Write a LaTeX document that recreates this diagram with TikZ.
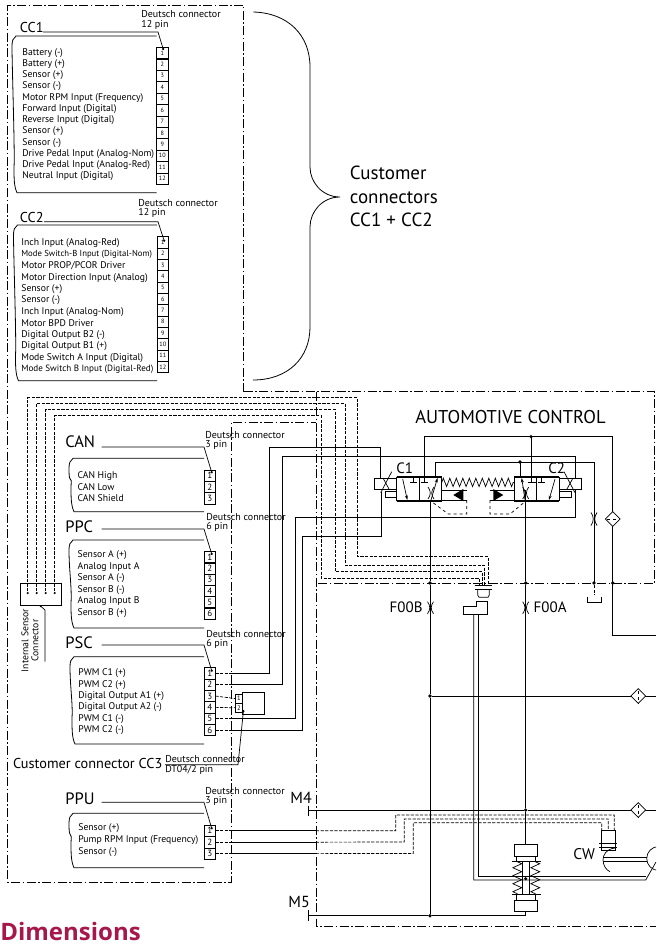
\documentclass[tikz,border=0pt]{standalone}
\usepackage{fontspec}
\setmainfont{PT Sans}
\newfontfamily\dimfont{Open Sans}
\usetikzlibrary{arrows,arrows.meta,decorations.pathmorphing,shapes.geometric}

\definecolor{crimson}{HTML}{A6174A}
\newcommand{\cblock}[5]{
  \draw[blockline] (#4,#3) -- (#2+4,#3) .. controls (#2+1,#3+2) and (#2,#3+5) .. (#2,#3+10)
    .. controls (#2,#3+30) and (#2+3,{#5-40}) .. (#2+2,{#5-25})
    .. controls (#2+2,{#5-15}) and (#2+2,{#5-6}) .. (#2+5,#5) -- (#4,#5);
  \coordinate (#1) at (#4,#3);
}
\newcommand{\pinrow}[6]{
  \foreach \i in {1,...,#4}
    \node[#6] (#1\i) at (#2,{#3+(\i-0.5)*#5}) {\i};
}
\newcommand{\textrow}[5]{
  \foreach \t [count=\i] in {#5}
    \node[rowtext] (#1\i) at (#2,{#3+(\i-1)*#4}) {\t};
}
\newcommand{\restrictor}[3]{
  \draw (#1-3,#2-#3) .. controls (#1,#2-2) and (#1,#2+2) .. (#1-3,#2+#3);
  \draw (#1+3,#2-#3) .. controls (#1,#2-2) and (#1,#2+2) .. (#1+3,#2+#3);
}
\newcommand{\tightA}{\fontsize{8.7}{10}\selectfont}
\newcommand{\tightB}{\fontsize{9.1}{10}\selectfont}

\begin{document}
\begin{tikzpicture}[x=1pt,y=-1pt,line width=0.7pt,>=stealth']
  \tikzstyle{rowtext}=[anchor=west,inner sep=0pt,font=\fontsize{9.7}{10}\selectfont]
  \tikzstyle{smalltext}=[anchor=west,inner sep=0pt,font=\fontsize{10}{10}\selectfont]
  \tikzstyle{biglabel}=[anchor=west,inner sep=0pt,font=\fontsize{16.5}{18}\selectfont]
  \tikzstyle{midlabel}=[anchor=west,inner sep=0pt,font=\fontsize{14.3}{15}\selectfont]
  \tikzstyle{pinsmall}=[draw,line width=0.5pt,minimum width=11.3pt,minimum height=11.33pt,inner sep=0pt,outer sep=0pt,anchor=center,font=\fontsize{6.2}{6}\selectfont]
  \tikzstyle{pinbig}=[pinsmall,font=\fontsize{9}{9}\selectfont]
  \tikzstyle{pinheavy}=[pinbig,line width=0.9pt]
  \tikzstyle{blockline}=[line width=0.8pt]
  \tikzstyle{leader}=[line width=0.7pt,-{Circle[length=2.2pt]}]
  \tikzstyle{frame}=[line width=0.65pt,dash pattern=on 9pt off 2.5pt on 1.5pt off 2.5pt]
  \tikzstyle{sensor}=[line width=0.7pt,dash pattern=on 3.2pt off 1.4pt]
  \tikzstyle{dot}=[circle,fill=black,inner sep=0pt,minimum size=3.6pt]
  \tikzstyle{filter}=[diamond,draw,fill=white,inner sep=0pt,minimum size=15pt]
  \tikzstyle{vbox}=[draw,minimum size=22.5pt,inner sep=0pt,outer sep=0pt]

  \useasboundingbox (0,0) rectangle (656,944);
  \clip (0,0) rectangle (656,944);

  \coordinate (frameA) at (231,0);
  \coordinate (frameB) at (316,0);

  \draw[frame] (243.5,392) -- (243.5,5) -- (7.5,5) -- (7.5,882) -- (231,882) -- (231,422) -- (316,422);
  \draw[frame] (243.5,391.5) -- (654.5,391.5) -- (654.5,583) -- (316,583);
  \draw[frame] (316,391.5) -- (316,926) -- (656,926);

  \draw[blockline] (253.3,12) .. controls (288,13) and (310,35) .. (310,67) -- (310,167)
    .. controls (310,182) and (322,197) .. (340,197)
    .. controls (322,197) and (310,212) .. (310,227) -- (310,327)
    .. controls (310,358) and (288,380) .. (253,380);

  \node[midlabel,align=left,font=\fontsize{19}{23.5}\selectfont] (custconn) at (349.5,196.5) {Customer\\connectors\\CC1 + CC2};

  \node[midlabel] (CC1) at (19.5,27.5) {CC1};
  \node[smalltext] (CC1dc) at (141,14) {Deutsch connector};
  \node[smalltext] (CC1pin) at (141,25) {12 pin};
  \cblock{CC1b}{12}{36}{156.5}{192.7}
  \pinrow{CC1p}{162.3}{47.3}{12}{11.42}{pinsmall}
  \textrow{CC1t}{22}{52.7}{11.25}{Battery (-),Battery (+),Sensor (+),Sensor (-),Motor RPM Input (Frequency),Forward Input (Digital),Reverse Input (Digital),Sensor (+),Sensor (-),Drive Pedal Input (Analog-Nom),Drive Pedal Input (Analog-Red),Neutral Input (Digital)}
  \coordinate (CC1l) at (43,32);
  \draw[leader] (CC1l) -- (158,32) -- (163.5,50);

  \node[midlabel] (CC2) at (19.5,217.5) {CC2};
  \node[smalltext] (CC2dc) at (138,202.7) {Deutsch connector};
  \node[smalltext] (CC2pin) at (138,212.7) {12 pin};
  \cblock{CC2b}{13.5}{225}{157}{380.7}
  \pinrow{CC2p}{162.8}{236.7}{12}{11.33}{pinsmall}
  \textrow{CC2t}{21}{243.3}{11.44}{Inch Input (Analog-Red),\tightA Mode Switch-B Input (Digital-Nom),Motor PROP/PCOR Driver,Motor Direction Input (Analog),Sensor (+),Sensor (-),Inch Input (Analog-Nom),Motor BPD Driver,Digital Output B2 (-),Digital Output B1 (+),Mode Switch A Input (Digital),\tightB Mode Switch B Input (Digital-Red)}
  \coordinate (CC2l) at (44,221.7);
  \draw[leader] (CC2l) -- (158,221.7) -- (164.5,241.7);

  \node[biglabel] (CAN) at (65,442) {CAN};
  \node[smalltext] (CANdc) at (205,434.8) {Deutsch connector};
  \node[smalltext] (CANpin) at (205,445) {3 pin};
  \cblock{CANb}{69}{458.3}{204}{511.7}
  \pinrow{CANp}{209.8}{470}{3}{11.33}{pinbig}
  \textrow{CANt}{77.3}{476}{11}{CAN High,CAN Low,CAN Shield}
  \coordinate (CANl) at (101.7,447);
  \draw[leader] (CANl) -- (204,447) -- (212,473.3);

  \node[biglabel] (PPC) at (65,526.5) {PPC};
  \node[smalltext] (PPCdc) at (206,516.7) {Deutsch connector};
  \node[smalltext] (PPCpin) at (206,526.7) {6 pin};
  \cblock{PPCb}{69}{540}{204}{628}
  \pinrow{PPCp}{209.8}{551.7}{6}{11.25}{pinheavy}
  \textrow{PPCt}{77.3}{555}{11.6}{Sensor A (+),Analog Input A,Sensor A (-),Sensor B (-),Analog Input B,Sensor B (+)}
  \coordinate (PPCl) at (101.7,529);
  \draw[leader] (PPCl) -- (204,529) -- (212,555);

  \node[biglabel] (PSC) at (65,642.5) {PSC};
  \node[smalltext] (PSCdc) at (206,634.3) {Deutsch connector};
  \node[smalltext] (PSCpin) at (206,644.3) {6 pin};
  \cblock{PSCb}{70}{656.7}{204}{744}
  \pinrow{PSCp}{209.8}{667.7}{6}{11.33}{pinheavy}
  \textrow{PSCt}{78}{673.3}{11.4}{PWM C1 (+),PWM C2 (+),Digital Output A1 (+),Digital Output A2 (-),PWM C1 (-),PWM C2 (-)}
  \coordinate (PSCl) at (101.7,645);
  \draw[leader] (PSCl) -- (204,645) -- (212,671.7);

  \node[midlabel] (CC3) at (12.7,763.3) {Customer connector CC3};
  \node[smalltext] (CC3dc) at (165,759.3) {Deutsch connector};
  \node[smalltext] (CC3pin) at (165,770) {DT04/2 pin};
  \coordinate (CC3l) at (165,764.7);
  \draw[leader] (CC3l) -- (238,764.7) -- (243.5,710);
  \node[draw,minimum width=6.6pt,minimum height=9.2pt,inner sep=0pt,outer sep=0pt,font=\fontsize{6.5}{6}\selectfont] (DTp1) at (239,698.6) {1};
  \node[draw,minimum width=6.6pt,minimum height=9.2pt,inner sep=0pt,outer sep=0pt,font=\fontsize{6.5}{6}\selectfont] (DTp2) at (239,707.8) {2};
  \node[draw,minimum width=22pt,minimum height=21.3pt,inner sep=0pt,outer sep=0pt] (DTbox) at (253.3,703.3) {};
  \draw[sensor] (PSCp3.east) -- (DTp1.west);
  \draw[sensor] (PSCp4.east) -- (DTp2.west);

  \node[biglabel] (PPU) at (65,799) {PPU};
  \node[smalltext] (PPUdc) at (205,790.7) {Deutsch connector};
  \node[smalltext] (PPUpin) at (205,800.7) {3 pin};
  \cblock{PPUb}{69}{813.3}{204}{867.7}
  \pinrow{PPUp}{209.8}{825}{3}{11.44}{pinbig}
  \textrow{PPUt}{78}{828.3}{11.7}{Sensor (+),Pump RPM Input (Frequency),Sensor (-)}
  \coordinate (PPUl) at (101.7,802.3);
  \draw[leader] (PPUl) -- (204,802.3) -- (212,829.3);

  \node[draw,line width=0.8pt,minimum width=40.6pt,minimum height=22.6pt,inner sep=0pt,outer sep=0pt] (ISC) at (41,594.3) {};
  \node[rotate=90,align=center,inner sep=0pt,font=\fontsize{9.7}{10}\selectfont] (ISCt) at (30,640.5) {Internal Sensor\\Connector};
  \coordinate (ISCl) at (45,661.7);
  \draw[line width=0.7pt,{Circle[length=2pt]}-] (40,605.5) -- (45,610) -- (ISCl);

  \foreach \n/\x in {a/27.7,b/36.7,c/45.7,d/54.7}
    \node[dot,minimum size=2.4pt] (ISC\n) at (\x,593) {};
  \coordinate (CONa) at (488,585);
  \coordinate (CONb) at (484.5,585);
  \coordinate (CONc) at (482,585);
  \coordinate (COND) at (479,585);
  \draw[sensor] (ISCa) -- (27.7,397.7) -- (357.3,397.7) -- (357.3,556.7) -- (488,556.7) -- (CONa);
  \draw[sensor] (ISCb) -- (36.7,403.3) -- (345,403.3) -- (345,565.3) -- (484.5,565.3) -- (CONb);
  \draw[sensor] (ISCc) -- (45.7,409.3) -- (335,409.3) -- (335,571.7) -- (482,571.7) -- (CONc);
  \draw[sensor] (ISCd) -- (54.7,415.7) -- (321,415.7) -- (321,578.3) -- (479,578.3) -- (COND);

  \node[midlabel,font=\fontsize{18.5}{20}\selectfont] (AUTO) at (415,417) {AUTOMOTIVE CONTROL};

  \node[draw,minimum width=22.7pt,minimum height=11pt,inner sep=0pt,outer sep=0pt] (C1act) at (385.3,483.5) {};
  \node[draw,minimum width=22.7pt,minimum height=11pt,inner sep=0pt,outer sep=0pt] (C2act) at (570.3,483.5) {};
  \node[vbox] (C1a) at (407.9,488.9) {};
  \node[vbox] (C1b) at (430.4,488.9) {};
  \node[vbox] (C2a) at (525.4,488.9) {};
  \node[vbox] (C2b) at (547.9,488.9) {};
  \node[midlabel,font=\fontsize{15}{15}\selectfont] (C1) at (396,468) {C1};
  \node[midlabel,font=\fontsize{15}{15}\selectfont] (C2) at (548,468) {C2};

  \draw (396.7,476) -- (441.7,476);
  \draw (396.7,501.7) -- (441.7,501.7);
  \draw (514,476) -- (559,476);
  \draw (514,501.7) -- (559,501.7);
  \draw (380.7,492.7) -- (391.7,471.7);
  \draw (383,478) -- (389,489);
  \draw (575,492.7) -- (564,471.7);
  \draw (573,478) -- (567,489);
  \draw (396.7,491.7) -- (385.7,491.7) -- (385.7,497.3) -- (396.7,497.3);
  \draw (559,491.7) -- (571,491.7) -- (571,497.3) -- (559,497.3);

  \draw[decorate,decoration={zigzag,segment length=6.5pt,amplitude=4.2pt}] (441.7,482.4) -- (514,482.4);
  \draw (441.7,490) -- (466.7,490);
  \draw (441.7,500) -- (466.7,500);
  \draw (514,490) -- (490,490);
  \draw (514,500) -- (490,500);
  \fill (453.3,495) -- (463.3,489) -- (463.3,501) -- cycle;
  \fill (503.3,495) -- (493.3,489) -- (493.3,501) -- cycle;
  \draw[dashed] (466.7,500) -- (466.7,514) -- (448.3,514) -- (431.7,501.7);
  \draw[dashed] (490,500) -- (490,514) -- (510,514) -- (525,501.7);

  \draw[-{Stealth[length=4.5pt,width=3pt]}] (402.7,479) -- (407.3,500);
  \draw (413.3,477) -- (413.3,482.3) (410,482.3) -- (416.7,482.3);
  \draw (420.5,482.3) -- (428,482.3);
  \draw[-{Stealth[length=4.5pt,width=3pt]}] (431,500) -- (437.5,478);
  \draw (541.7,477) -- (541.7,482.3) (538.4,482.3) -- (545,482.3);
  \draw (528,482.3) -- (535.5,482.3);
  \draw[-{Stealth[length=4.5pt,width=3pt]}] (525,500) -- (521.7,478);
  \draw[-{Stealth[length=4.5pt,width=3pt]}] (555,479) -- (549,500);
  \restrictor{431}{493}{6}
  \restrictor{525.7}{493}{6}

  \coordinate (C1T) at (424.3,482.3);
  \coordinate (C2T) at (531,482.3);
  \coordinate (C1P) at (435.7,478);
  \coordinate (C2P) at (520,478);
  \node[dot] (topdot) at (531,436.7) {};
  \node[dot] (pdot) at (520,462) {};
  \draw (C1T) |- (topdot.center) -- (C2T);
  \draw (topdot.center) -| (612.7,635) -- (656,635);
  \draw (C1P) |- (pdot.center) -- (C2P);
  \draw (pdot.center) -| (594,583);

  \foreach \i in {1,2,5,6}
    \draw[sensor] (PSCp\i.east) -- (PSCp\i.east -| frameA);
  \draw (PSCp1.east -| frameA) -| (269.3,447.3) -| (380,478);
  \draw (PSCp2.east -| frameA) -| (282.7,456) -| (575,478);
  \draw (PSCp5.east -| frameA) -| (295.7,517.3) -| (575,489);
  \draw (PSCp6.east -| frameA) -| (302.3,536.7) -| (381.7,491.7);

  \node[filter] (filt1) at (612.7,519) {};
  \draw[dashed] (607,519) -- (618,519);
  \restrictor{594}{519}{6.5}

  \node[dot] (dA) at (430,583) {};
  \node[dot] (dB) at (525.7,583) {};
  \node[dot] (dC) at (594,583) {};
  \node[dot] (dD) at (612.7,583) {};
  \node[dot] (dE) at (430,696) {};
  \node[dot] (dF) at (430,915.7) {};
  \node[dot] (dG) at (525.7,810) {};
  \node[dot,minimum size=3.4pt] (dH) at (525.7,878.7) {};

  \coordinate (M4tick) at (308.3,810);
  \coordinate (M5tick) at (308.3,915.7);
  \draw (308.3,805.5) -- (308.3,816);
  \draw (308.3,910) -- (308.3,921);
  \node[midlabel,font=\fontsize{16}{16}\selectfont] (M4) at (290,798) {M4};
  \node[midlabel,font=\fontsize{16}{16}\selectfont] (M5) at (288,901.7) {M5};

  \draw (430,500) -- (dA) -- (dE) -- (dF);
  \draw (525.7,490) -- (dB) -- (dG) -- (525.7,844.3);
  \draw (M4tick) -- (dG) -- (656,810);
  \draw (dE) -- (656,696);
  \draw (M5tick) -- (dF) -- (525.7,915.7) -- (525.7,911.7);
  \node[filter] (filt2) at (638.3,696) {};
  \node[filter] (filt3) at (638.3,810) {};
  \draw[dashed] (638.3,691) -- (638.3,704);
  \draw[dashed] (638.3,805) -- (638.3,818);

  \restrictor{430.5}{607.7}{6}
  \restrictor{525.7}{607.7}{6}
  \node[midlabel,font=\fontsize{15}{15}\selectfont] (F00B) at (389.3,607.7) {F00B};
  \node[midlabel,font=\fontsize{15}{15}\selectfont] (F00A) at (533.3,607.7) {F00A};

  \draw[sensor] (dC) -- (594,595);
  \draw (587.7,596.7) -- (587.7,602.7) -- (601,602.7) -- (601,596.7);

  \draw (475,585) -- (492.3,585) (475,589.3) -- (492.3,589.3);
  \draw (477.7,589.3) -- (477.7,595) -- (479,597.3) -- (488,597.3) -- (489.3,595) -- (489.3,589.3);
  \draw (463.3,606.7) -- (476.7,606.7) -- (476.7,601.7) -- (487.7,601.7) -- (487.7,614) -- (463.3,614) -- cycle;

  \coordinate (outerW) at (473.8,614);
  \coordinate (innerW) at (478.4,614);
  \draw (outerW) -- (473.8,880) -- (645.7,880) -- (656,862);
  \draw (innerW) -- (478.4,876.7) -- (645.7,876.7);

  \foreach \i in {1,2,3}
    \draw[sensor] (PPUp\i.east) -- (PPUp\i.east -| frameA);
  \foreach \i in {1,2,3}
    \draw (PPUp\i.east -| frameA) -- (PPUp\i.east -| frameB);
  \draw[sensor] (PPUp1.east -| frameB) -- (395.7,830.7) -- (395.7,815) -- (614.3,815) -- (614.3,830);
  \draw[sensor] (PPUp2.east -| frameB) -- (404.3,842) -- (404.3,819) -- (608.3,819) -- (608.3,830);
  \draw[sensor] (PPUp3.east -| frameB) -- (413.3,853.5) -- (413.3,822.7) -- (601.7,822.7) -- (601.7,830);

  \node[draw,fill=white,minimum width=22.6pt,minimum height=11.7pt,inner sep=0pt,outer sep=0pt] (mt) at (526,850.2) {};
  \node[draw,fill=white,minimum width=22.6pt,minimum height=11pt,inner sep=0pt,outer sep=0pt] (mb) at (526,906.2) {};
  \draw (516.7,856) -- (516.7,861.7) (535,856) -- (535,861.7);
  \draw (516.7,894) -- (516.7,900.7) (535,894) -- (535,900.7);
  \draw (511.7,861.7) -- (541,861.7) (511.7,894) -- (541,894);
  \draw (522.3,861.7) -- (522.3,894) (529,861.7) -- (529,894);
  \draw[decorate,decoration={zigzag,segment length=8pt,amplitude=4.4pt}] (517.3,861.7) -- (517.3,894);
  \draw[decorate,decoration={zigzag,segment length=8pt,amplitude=4.4pt}] (535.3,861.7) -- (535.3,894);

  \node[draw,minimum width=14pt,minimum height=20.7pt,inner sep=0pt,outer sep=0pt] (cwcyl) at (608,840.3) {};
  \draw (599,843.3) -- (617,843.3) (599,847.7) -- (617,847.7);
  \node[midlabel,font=\fontsize{15.5}{15}\selectfont] (CW) at (573,854) {CW};
  \draw (615,848) .. controls (606,849) and (603,855) .. (603,860) .. controls (603,865) and (606,870) .. (610,871.7);
  \draw (603,857) -- (647,857) (603,861.7) -- (647,861.7);
  \node[draw,circle,minimum size=24pt,inner sep=0pt,outer sep=0pt] (motor) at (658.7,858.5) {};

  \node[anchor=west,inner sep=0pt,text=crimson,font=\dimfont\fontsize{24}{26}\selectfont\bfseries] (Dim) at (0,931) {Dimensions};
\end{tikzpicture}
\end{document}
